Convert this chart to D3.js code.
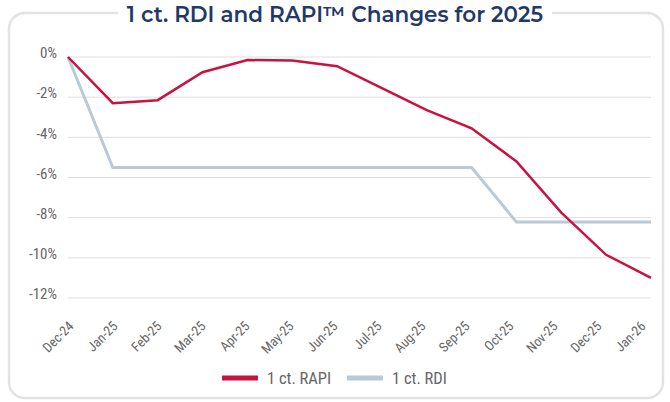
<!DOCTYPE html>
<html>
<head>
<meta charset="utf-8">
<script src="https://cdn.jsdelivr.net/npm/d3@7"></script>
<style>
  body { margin: 0; background: #fff; }
  svg { display: block; }
</style>
</head>
<body>
<div class="chart"></div>
<script>
// Data
const months = ["Dec-24", "Jan-25", "Feb-25", "Mar-25", "Apr-25", "May-25", "Jun-25",
  "Jul-25", "Aug-25", "Sep-25", "Oct-25", "Nov-25", "Dec-25", "Jan-26"];
const rapi = [0, -2.3, -2.15, -0.76, -0.15, -0.18, -0.46, -1.55, -2.65, -3.55, -5.2, -7.75, -9.85, -11.0];
const rdi = [0, -5.5, -5.5, -5.5, -5.5, -5.5, -5.5, -5.5, -5.5, -5.5, -8.22, -8.22, -8.22, -8.22];
const yTicks = [0, -2, -4, -6, -8, -10, -12];

const width = 670, height = 402;
const condensed = "'Liberation Sans Narrow', 'Roboto Condensed', 'DejaVu Sans Condensed', sans-serif";

const svg = d3.select(".chart")
  .append("svg")
  .attr("width", width)
  .attr("height", height);

// Rounded frame with title sitting in the gap
svg.append("rect")
  .attr("x", 9).attr("y", 13)
  .attr("width", 654).attr("height", 385)
  .attr("rx", 16)
  .attr("fill", "none")
  .attr("stroke", "#e3e3e3")
  .attr("stroke-width", 2.5);

const title = svg.append("text")
  .attr("x", 335).attr("y", 22)
  .attr("text-anchor", "middle")
  .attr("font-family", "Montserrat, 'Open Sans', sans-serif")
  .attr("font-weight", 600)
  .attr("font-size", 21.5)
  .attr("fill", "#1f3a68")
  .text("1 ct. RDI and RAPI\u2122 Changes for 2025");

const bb = title.node().getBBox();
svg.insert("rect", "text")
  .attr("x", bb.x - 9).attr("y", 0)
  .attr("width", bb.width + 18).attr("height", 26)
  .attr("fill", "#fff");

// Scales
const xScale = d3.scalePoint()
  .domain(months)
  .range([68, 651]);

// label positions drift slightly from the data points in the original
const xLabelScale = d3.scalePoint()
  .domain(months)
  .range([74, 646]);

const yScale = d3.scaleLinear()
  .domain([-12, 0])
  .range([298, 57]);

// Gridlines
svg.append("g")
  .selectAll("line")
  .data(yTicks)
  .join("line")
    .attr("x1", 68)
    .attr("x2", 651)
    .attr("y1", d => yScale(d))
    .attr("y2", d => yScale(d))
    .attr("stroke", "#dedede")
    .attr("stroke-width", 1);

// Y axis labels
const yAxis = svg.append("g")
  .attr("transform", "translate(68,-4)")
  .call(d3.axisLeft(yScale).tickValues(yTicks).tickSize(0).tickPadding(11).tickFormat(d => d + "%"));
yAxis.select(".domain").remove();
yAxis.selectAll("text")
  .attr("font-family", condensed)
  .attr("font-size", 15)
  .attr("fill", "#666");

// X axis labels, rotated
const xAxis = svg.append("g")
  .attr("transform", "translate(0,306)")
  .call(d3.axisBottom(xLabelScale).tickSize(0).tickPadding(0));
xAxis.select(".domain").remove();
xAxis.selectAll("text")
  .attr("font-family", condensed)
  .attr("font-size", 13.5)
  .attr("fill", "#666")
  .attr("text-anchor", "end")
  .attr("dy", 0)
  .attr("transform", "translate(0,21) rotate(-45)");

// Lines
const line = d3.line()
  .x((d, i) => xScale(months[i]))
  .y(d => yScale(d));

svg.append("path")
  .datum(rdi)
  .attr("d", line)
  .attr("fill", "none")
  .attr("stroke", "#b9cad6")
  .attr("stroke-width", 3);

svg.append("path")
  .datum(rapi)
  .attr("d", line)
  .attr("fill", "none")
  .attr("stroke", "#c8123f")
  .attr("stroke-width", 2.5);

// Legend
const legendItems = [
  { name: "1 ct. RAPI", color: "#c8123f", x: 222 },
  { name: "1 ct. RDI", color: "#b9cad6", x: 347 }
];
const legend = svg.append("g")
  .selectAll("g")
  .data(legendItems)
  .join("g")
    .attr("transform", d => `translate(${d.x},378)`);
legend.append("line")
  .attr("x1", 0).attr("x2", 36)
  .attr("stroke", d => d.color)
  .attr("stroke-width", 5);
legend.append("text")
  .attr("x", 45).attr("y", 6)
  .attr("font-family", condensed)
  .attr("font-size", 16.5)
  .attr("fill", "#666")
  .text(d => d.name);
</script>
</body>
</html>
